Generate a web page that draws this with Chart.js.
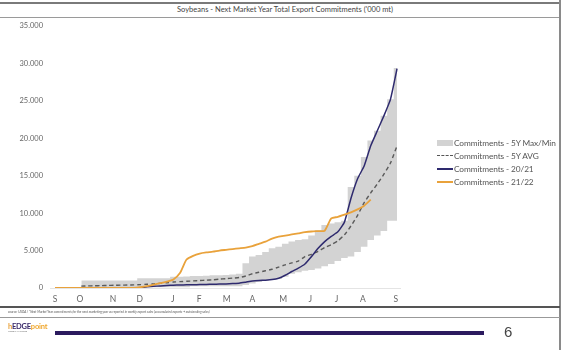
<!DOCTYPE html>
<html>
<head>
<meta charset="utf-8">
<script src="https://cdn.jsdelivr.net/npm/chart.js@4"></script>
<style>
    html, body { margin: 0; padding: 0; background: #fff; }
    body { width: 565px; height: 350px; position: relative; overflow: hidden; font-family: Lato, "Open Sans", sans-serif; }
    .abs { position: absolute; }
    #chart-wrap { left: 0; top: 0; width: 560px; height: 310px; }
    .title { left: 0; width: 570px; top: 5px; text-align: center; font-size: 7.5px; color: #444; }
    .legend { left: 437px; top: 136px; width: 122px; font-size: 8.3px; letter-spacing: -0.1px; color: #555; white-space: nowrap; }
    .legend .row { height: 13px; display: flex; align-items: center; }
    .legend .sw { width: 16px; margin-right: 1px; flex: none; }
    .foot { left: 8px; top: 310px; font-size: 3.2px; color: #555; font-style: italic; white-space: nowrap; }
    .logo { left: 8px; top: 322px; font-size: 7.5px; font-weight: bold; letter-spacing: -0.2px; }
    .logo small { display: block; font-size: 2.5px; color: #777; font-weight: normal; margin-top: -1px; }
</style>
</head>
<body>
<!-- khung trang -->
<div class="abs" style="left:0;top:2px;width:560px;height:2px;background:#7a7a7a"></div>
<div class="abs title">Soybeans - Next Market Year Total Export Commitments ('000 mt)</div>
<div class="abs" style="left:0;top:17px;width:560px;height:1px;background:#9a9a9a"></div>
<div class="abs" style="left:559px;top:0;width:2px;height:350px;background:#8a8a8a"></div>

<div class="abs" id="chart-wrap"><canvas id="main-chart" width="560" height="310"></canvas></div>

<div class="abs legend">
    <div class="row"><span class="sw" style="height:6px;background:#d3d3d3"></span>Commitments - 5Y Max/Min</div>
    <div class="row"><span class="sw" style="height:0;border-top:1.5px dashed #555"></span>Commitments - 5Y AVG</div>
    <div class="row"><span class="sw" style="height:2px;background:#2e2a6e"></span>Commitments - 20/21</div>
    <div class="row"><span class="sw" style="height:2px;background:#e9a23b"></span>Commitments - 21/22</div>
</div>

<div class="abs" style="left:0;top:306px;width:560px;height:2px;background:#555"></div>
<div class="abs foot">source: USDA / *Next Market Year commitments for the next marketing year as reported in weekly export sales (accumulated exports + outstanding sales)</div>
<div class="abs" style="left:0;top:317px;width:560px;height:1px;background:#999"></div>
<div class="abs logo"><span style="color:#e9a23b">h</span><span style="color:#3a2a6a">EDGE</span><span style="color:#f0a830">point</span><small>GLOBAL MARKETS</small></div>
<div class="abs" style="left:55px;top:331px;width:429px;height:4px;background:#2b1a5e"></div>
<div class="abs" style="left:504px;top:323px;font-size:15px;color:#444;font-family:'Liberation Sans',sans-serif">6</div>

<script>
// === Du lieu (tuan 0 = dau thang 9, tuan 52 = thang 9 nam sau) ===
const weeks = Array.from({ length: 53 }, (_, i) => i);

const monthLabels = ['S', 'O', 'N', 'D', 'J', 'F', 'M', 'A', 'M', 'J', 'J', 'A', 'S'];
const monthPos = [0, 3.8, 8.8, 12.9, 17.9, 21.9, 26.1, 30.0, 34.7, 38.8, 42.8, 46.8, 51.8];

const yTicks = [0, 5000, 10000, 15000, 20000, 25000, 30000, 35000];

const maxValues = [null, null, null, null,
    1000, 1000, 1000, 1000, 1000, 1000, 1000, 1000, 1000,
    1300, 1300, 1300, 1300, 1300,
    1500, 1500, 1550, 1600, 1600, 1650, 1700, 1700,
    1750, 1800, 1900, 3300, 4200, 4400, 4800, 5300, 5500, 5900,
    6200, 6400, 6500, 7000, 7700, 8400, 8600, 8800, 9000, 13500,
    15000, 17500, 19700, 21000, 23000, 25200, 29400];

const minValues = [null, null, null, null,
    0, 0, 0, 0, 0, 0, 0, 0, 0,
    100, 100, 100, 100, 100, 100, 100, 100,
    250, 250, 250, 250, 250, 250, 250, 250,
    400, 600, 800, 1000, 1100, 1200, 1500, 1900, 2100, 2300,
    2400, 2600, 2900, 3200, 3600, 4000, 4200, 4800, 5500, 6400,
    7000, 7600, 9000, 9000];

const avgValues = [null, null, null, null,
    250, 280, 300, 320, 340, 360, 380, 400, 420,
    450, 500, 550, 620, 700, 800, 850, 900, 950, 1000,
    1050, 1100, 1180, 1250, 1320, 1400, 1600, 1900, 2100, 2300,
    2500, 2800, 3100, 3350, 3600, 4200, 4500, 4900, 5400, 5800,
    6300, 7100, 8300, 9700, 11400, 12700, 13900, 15200, 16700, 19000];

const values2021 = [0, 0, 0, 0, 0, 0, 0, 0, 0, 0, 0, 0, 0,
    50, 150, 220, 280, 330, 380, 400, 420, 440, 460,
    480, 500, 520, 550, 600, 650, 780, 920, 1000, 1050,
    1120, 1300, 1700, 2200, 2650, 3200, 4200, 5300, 6200, 6900,
    7500, 8800, 12000, 14600, 16300, 19000, 21000, 23000, 25200, 29300];

const values2122 = [0, 0, 0, 0, 0, 0, 0, 0, 0, 0, 0, 0, 0,
    100, 250, 450, 650, 850, 1150, 2000, 3800, 4300, 4600,
    4750, 4850, 5000, 5100, 5200, 5300, 5400, 5600, 5900, 6200,
    6600, 6850, 7000, 7150, 7300, 7450, 7550, 7600, 7650, 9300,
    9500, 9800, 10100, 10500, 11000, 11800, null, null, null, null];

const toPoints = (arr) => arr.map((v, i) => ({ x: weeks[i], y: v }));
const fmt = (v) => v === 0 ? '0' : v.toLocaleString('de-DE');

const chartCanvas = document.getElementById('main-chart');

new Chart(chartCanvas, {
    type: 'line',
    data: {
        datasets: [
            {
                label: 'Commitments - 21/22',
                data: toPoints(values2122),
                borderColor: '#e9a23b',
                borderWidth: 1.8,
                tension: 0.2,
                pointRadius: 0,
                fill: false,
                order: 1
            },
            {
                label: 'Commitments - 20/21',
                data: toPoints(values2021),
                borderColor: '#2e2a6e',
                borderWidth: 1.5,
                tension: 0.15,
                pointRadius: 0,
                fill: false,
                order: 2
            },
            {
                label: 'Commitments - 5Y AVG',
                data: toPoints(avgValues),
                borderColor: '#5a5a5a',
                borderWidth: 1.4,
                borderDash: [4, 3],
                tension: 0.2,
                pointRadius: 0,
                fill: false,
                order: 3
            },
            {
                label: 'Commitments - 5Y Max/Min',
                data: toPoints(maxValues),
                borderWidth: 0,
                borderColor: 'rgba(0,0,0,0)',
                backgroundColor: '#d3d3d3',
                stepped: 'middle',
                pointRadius: 0,
                fill: '+1',
                order: 4
            },
            {
                label: 'min',
                data: toPoints(minValues),
                borderWidth: 0,
                borderColor: 'rgba(0,0,0,0)',
                stepped: 'middle',
                pointRadius: 0,
                fill: false,
                order: 5
            }
        ]
    },
    options: {
        responsive: false,
        animation: false,
        layout: { padding: { top: 26, right: 160, left: 0, bottom: 0 } },
        plugins: {
            legend: { display: false },
            tooltip: { enabled: false }
        },
        scales: {
            x: {
                type: 'linear',
                min: -0.76,
                max: 52.45,
                afterBuildTicks: (scale) => { scale.ticks = monthPos.map(v => ({ value: v })); },
                afterFit: (scale) => { scale.height = 22; },
                ticks: {
                    autoSkip: false,
                    maxRotation: 0,
                    padding: 6,
                    color: '#666',
                    font: { family: 'Lato', size: 8.5 },
                    callback: (v, i) => monthLabels[i]
                },
                grid: { display: false, drawTicks: false },
                border: { display: true, color: '#e4e4e4', width: 1 }
            },
            y: {
                min: 0,
                max: 35000,
                afterBuildTicks: (scale) => { scale.ticks = yTicks.map(v => ({ value: v })); },
                afterFit: (scale) => { scale.width = 50; },
                ticks: {
                    padding: 7,
                    color: '#666',
                    font: { family: 'Lato', size: 7.5 },
                    callback: (v) => fmt(v)
                },
                grid: { display: false, drawTicks: false },
                border: { display: false }
            }
        }
    }
});
</script>
</body>
</html>
